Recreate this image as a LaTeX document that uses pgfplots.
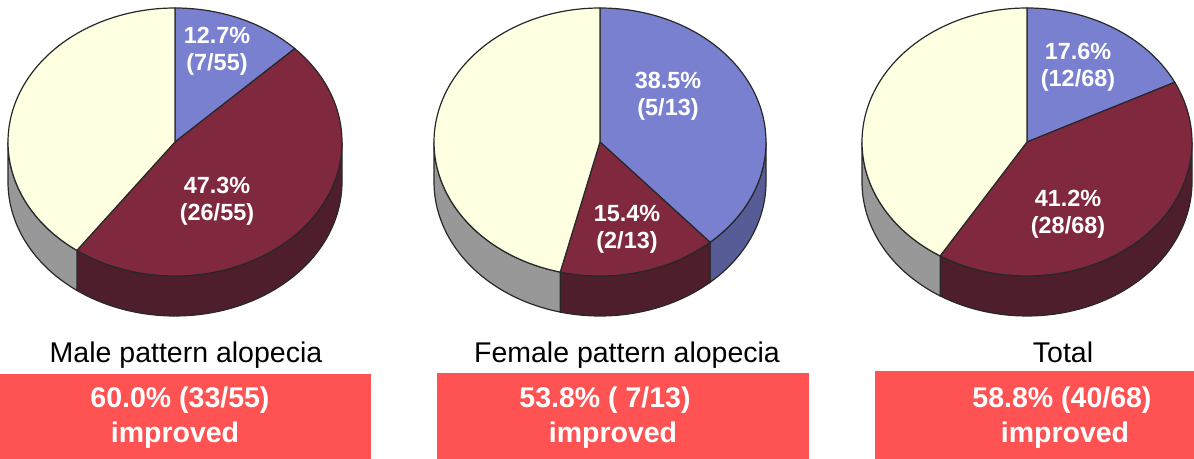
\documentclass[border=0pt]{standalone}
\usepackage{fontspec}
\setmainfont{Liberation Sans}
\usepackage{pgfplots}
\pgfplotsset{compat=1.18}
\usepgfplotslibrary{fillbetween}
\definecolor{blueTop}{RGB}{122,128,208}
\definecolor{maroonTop}{RGB}{128,40,62}
\definecolor{creamTop}{RGB}{255,255,226}
\definecolor{blueSide}{RGB}{88,92,150}
\definecolor{maroonSide}{RGB}{78,30,45}
\definecolor{creamSide}{RGB}{152,152,152}
\definecolor{edge}{RGB}{40,40,40}
\definecolor{boxred}{RGB}{255,82,82}
% top face of a slice: cx, rx, lo angle, hi angle, colour
\newcommand\topslice[5]{%
  \addplot[fill=#5, draw=edge, line width=0.6pt, domain=#3:#4, samples=90, variable=\t]
    ({#1+#2*cos(\t)},{142-134*sin(\t)}) -- (#1,142) -- cycle;}
% side band of a slice: cx, rx, lo, hi, colour, name
\newcommand\sideband[6]{%
  \addplot[draw=none, name path=T#6, domain=#3:#4, samples=60, variable=\t]
    ({#1+#2*cos(\t)},{142-134*sin(\t)});
  \addplot[draw=none, name path=B#6, domain=#3:#4, samples=60, variable=\t]
    ({#1+#2*cos(\t)},{182-134*sin(\t)});
  \addplot[fill=#5, draw=edge, line width=0.6pt] fill between[of=T#6 and B#6];}
\begin{document}
\begin{tikzpicture}
\begin{axis}[width=597pt, height=229.5pt, scale only axis,
  xmin=0, xmax=1194, ymin=0, ymax=459, y dir=reverse,
  hide axis, clip=false, no markers]
% ---------- Male: 7, 26, 22 of 55
\sideband{175}{167}{90-360*33/55}{0}{maroonSide}{ma}
\sideband{175}{167}{-180}{90-360*33/55}{creamSide}{mc}
\topslice{175}{167}{90-360*7/55}{90}{blueTop}
\topslice{175}{167}{90-360*33/55}{90-360*7/55}{maroonTop}
\topslice{175}{167}{-270}{90-360*33/55}{creamTop}
% ---------- Female: 5, 2, 6 of 13
\sideband{600}{166}{90-360*5/13}{0}{blueSide}{fb}
\sideband{600}{166}{90-360*7/13}{90-360*5/13}{maroonSide}{fa}
\sideband{600}{166}{-180}{90-360*7/13}{creamSide}{fc}
\topslice{600}{166}{90-360*5/13}{90}{blueTop}
\topslice{600}{166}{90-360*7/13}{90-360*5/13}{maroonTop}
\topslice{600}{166}{-270}{90-360*7/13}{creamTop}
% ---------- Total: 12, 28, 28 of 68
\sideband{1027}{165}{90-360*40/68}{0}{maroonSide}{ta}
\sideband{1027}{165}{-180}{90-360*40/68}{creamSide}{tc}
\topslice{1027}{165}{90-360*12/68}{90}{blueTop}
\topslice{1027}{165}{90-360*40/68}{90-360*12/68}{maroonTop}
\topslice{1027}{165}{-270}{90-360*40/68}{creamTop}
% slice labels
\begin{scope}[every node/.style={text=white, font=\bfseries\fontsize{11.7}{13.6}\selectfont, align=center}]
\node at (217,51.5) {12.7\%\\(7/55)};
\node at (217,201) {47.3\%\\(26/55)};
\node at (668,96) {38.5\%\\(5/13)};
\node at (627,229) {15.4\%\\(2/13)};
\node at (1078,67) {17.6\%\\(12/68)};
\node at (1068,214) {41.2\%\\(28/68)};
\end{scope}
% titles
\begin{scope}[every node/.style={anchor=base, font=\fontsize{14.25}{17}\selectfont, inner sep=0pt}]
\node at (186,363) {Male pattern alopecia};
\node at (627,363) {Female pattern alopecia};
\node at (1063,363) {Total};
\end{scope}
% result boxes
\fill[boxred] (0,374) rectangle (371,459);
\fill[boxred] (437,373) rectangle (809,459);
\fill[boxred] (875,371) rectangle (1194,459);
\begin{scope}[every node/.style={anchor=base, text=white, font=\bfseries\fontsize{14.25}{17}\selectfont, inner sep=0pt}]
\node at (180,408) {60.0\% (33/55)};
\node at (175,443) {improved};
\node at (605,408) {53.8\% ( 7/13)};
\node at (613,443) {improved};
\node at (1062,408) {58.8\% (40/68)};
\node at (1065,443) {improved};
\end{scope}
\end{axis}
\pgfresetboundingbox
\path (current axis.south west) rectangle (current axis.north east);
\end{tikzpicture}
\end{document}
